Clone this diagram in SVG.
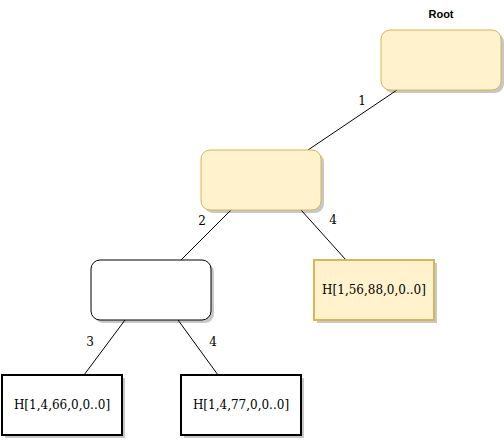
<svg xmlns="http://www.w3.org/2000/svg" width="504" height="440" viewBox="0 0 504 440">
<defs>
<style>
.sh{fill:#000;opacity:0.22}
.y{fill:#fff2cc;stroke:#d6b656;stroke-width:1}
.yl{fill:#fff2cc;stroke:#d6b656;stroke-width:2}
.w{fill:#fff;stroke:#000;stroke-width:1}
.wl{fill:#fff;stroke:#000;stroke-width:2}
.e{stroke:#000;stroke-width:1;fill:none}
.lb{font-family:"DejaVu Serif",serif;font-size:12px;fill:#000;text-anchor:middle}
.t{font-family:"DejaVu Serif",serif;font-size:12px;fill:#000;text-anchor:middle}
</style>
</defs>
<rect width="504" height="440" fill="#fff"/>
<g id="edges">
<line class="e" x1="397" y1="90" x2="308" y2="150"/>
<line class="e" x1="231" y1="210" x2="181" y2="260"/>
<line class="e" x1="301" y1="210" x2="346" y2="260"/>
<line class="e" x1="125" y1="320" x2="84" y2="375"/>
<line class="e" x1="178" y1="320" x2="218" y2="375"/>
<text class="lb" x="362" y="105">1</text>
<text class="lb" x="202" y="225">2</text>
<text class="lb" x="333" y="224">4</text>
<text class="lb" x="90" y="346">3</text>
<text class="lb" x="213" y="346">4</text>
</g>
<g id="root">
<text x="441" y="18" font-family="Liberation Sans,Arial,sans-serif" font-size="11" font-weight="bold" text-anchor="middle">Root</text>
<rect class="sh" x="384" y="33" width="120" height="60" rx="9"/>
<rect class="y" x="381" y="30" width="120" height="60" rx="9"/>
</g>
<g id="n2">
<rect class="sh" x="204" y="153" width="120" height="60" rx="9"/>
<rect class="y" x="201" y="150" width="120" height="60" rx="9"/>
</g>
<g id="n3">
<rect class="sh" x="94" y="263" width="120" height="60" rx="9"/>
<rect class="w" x="91" y="260" width="120" height="60" rx="9"/>
</g>
<g id="leaf88">
<rect class="sh" x="317" y="263" width="120" height="60"/>
<rect class="yl" x="314" y="260" width="120" height="60"/>
<text class="t" x="374" y="294">H[1,56,88,0,0..0]</text>
</g>
<g id="leaf66">
<rect class="sh" x="5" y="378" width="120" height="60"/>
<rect class="wl" x="2" y="375" width="120" height="60"/>
<text class="t" x="62" y="409">H[1,4,66,0,0..0]</text>
</g>
<g id="leaf77">
<rect class="sh" x="184" y="378" width="120" height="60"/>
<rect class="wl" x="181" y="375" width="120" height="60"/>
<text class="t" x="241" y="409">H[1,4,77,0,0..0]</text>
</g>
</svg>
